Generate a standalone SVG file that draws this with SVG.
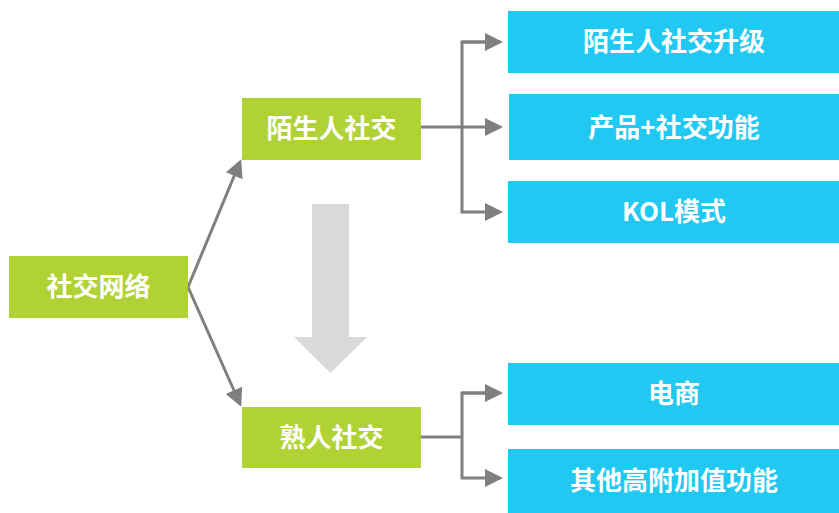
<svg xmlns="http://www.w3.org/2000/svg" width="839" height="513" viewBox="0 0 839 513">
<style>
.g{fill:#b1d234}
.b{fill:#20c8f2}
.t{fill:#ffffff;font-family:"Noto Sans CJK SC","Noto Sans",sans-serif;font-weight:bold;font-size:26px;text-anchor:middle}
.c{stroke:#7f7f7f;stroke-width:3;fill:none}
</style>
<defs>
<marker id="ah" markerWidth="6" markerHeight="6" refX="5" refY="3" orient="auto" markerUnits="strokeWidth" viewBox="0 0 6 6">
<path d="M0,0 L6,3 L0,6 Z" fill="#7f7f7f"/>
</marker>
</defs>
<polygon points="312,204 349,204 349,337 367,337 330.5,373 294,337 312,337" fill="#d9d9d9"/>
<g id="connectors">
<path class="c" d="M188,287 L240,162" marker-end="url(#ah)"/>
<path class="c" d="M188,287 L240,404" marker-end="url(#ah)"/>
<path class="c" d="M421,127 L500,127" marker-end="url(#ah)"/>
<path class="c" d="M500,42 L462,42 L462,212 L500,212" marker-end="url(#ah)"/>
<path class="c" d="M462,42 L500,42" marker-end="url(#ah)"/>
<path class="c" d="M421,437 L462,437"/>
<path class="c" d="M500,393 L462,393 L462,478 L500,478" marker-end="url(#ah)"/>
<path class="c" d="M462,393 L500,393" marker-end="url(#ah)"/>
</g>
<g id="n1"><rect class="g" x="9" y="256" width="179" height="62"/><text class="t" x="98.5" y="296">社交网络</text></g>
<g id="n2"><rect class="g" x="242" y="98" width="179" height="62"/><text class="t" x="331.5" y="138">陌生人社交</text></g>
<g id="n3"><rect class="g" x="242" y="407" width="179" height="61"/><text class="t" x="331.5" y="447">熟人社交</text></g>
<g id="n4"><rect class="b" x="508" y="11" width="331" height="62"/><text class="t" x="674" y="51">陌生人社交升级</text></g>
<g id="n5"><rect class="b" x="509" y="94" width="330" height="66"/><text class="t" x="674" y="137">产品+社交功能</text></g>
<g id="n6"><rect class="b" x="508" y="181" width="331" height="62"/><text class="t" x="674" y="221">KOL模式</text></g>
<g id="n7"><rect class="b" x="508" y="363" width="331" height="62"/><text class="t" x="674" y="403">电商</text></g>
<g id="n8"><rect class="b" x="508" y="449" width="331" height="64"/><text class="t" x="674" y="490">其他高附加值功能</text></g>
</svg>
